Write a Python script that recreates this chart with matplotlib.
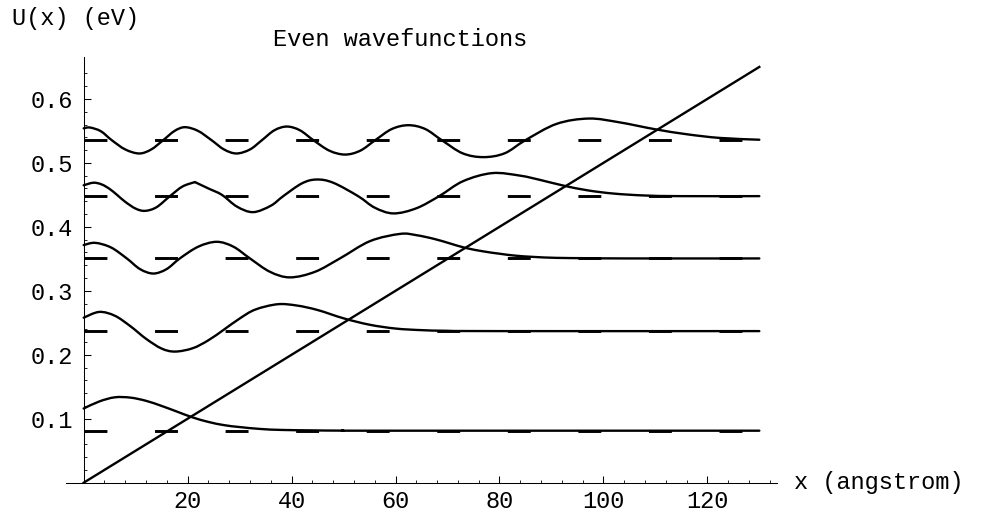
import matplotlib
matplotlib.use("Agg")
import matplotlib.pyplot as plt
from matplotlib.ticker import FixedLocator
from matplotlib.path import Path
from matplotlib.patches import PathPatch

plt.rcParams['font.family'] = ['Liberation Mono', 'DejaVu Sans Mono']
plt.rcParams['lines.scale_dashes'] = False

# ---- data ----
pot_x = [0, 130]
pot_u = [0.0, 0.65]

levels = [0.0813, 0.237, 0.3506, 0.448, 0.5355]
level_x = [0, 130]

psi1_x = [0, 3, 6, 9, 12, 15, 18, 21, 24, 27, 30, 34, 38, 44, 50, 60, 130]
psi1_y = [0.116, 0.127, 0.1335, 0.133, 0.128, 0.120, 0.111, 0.102, 0.095,
          0.090, 0.087, 0.084, 0.0825, 0.0818, 0.0814, 0.0813, 0.0813]

psi2_x = [0, 3, 6, 9, 12, 15, 17.6, 21, 24, 27, 30, 33, 37.3, 41, 45, 50, 55,
          60, 65, 70, 80, 130]
psi2_y = [0.258, 0.267, 0.261, 0.2446, 0.225, 0.2097, 0.205, 0.2103, 0.2227,
          0.2394, 0.2566, 0.2706, 0.279, 0.277, 0.270, 0.257, 0.247, 0.241,
          0.2385, 0.2375, 0.237, 0.237]

psi3_x = [0, 2.2, 5.25, 8.3, 10.85, 13.4, 15.95, 18.5, 22.05, 25.6, 28.8, 32.0,
          35.85, 39.7, 44.5, 49.3, 55.1, 60.9, 64, 67.5, 70.5, 73.5, 77, 80,
          83, 86.5, 91, 97, 105, 130]
psi3_y = [0.3715, 0.375, 0.3678, 0.3506, 0.3339, 0.327, 0.3339, 0.3506, 0.369,
          0.3766, 0.369, 0.3506, 0.3297, 0.321, 0.3297, 0.3506, 0.3777, 0.389,
          0.387, 0.381, 0.374, 0.367, 0.3615, 0.358, 0.355, 0.353, 0.3515,
          0.351, 0.3506, 0.3506]

# level-4 curve has a visible kink at x = 21.4, so it is kept in two pieces
psi4a_x = [0, 1.9, 3.5, 5, 6.4, 8, 10, 11.8, 14, 16.6, 19, 21.4]
psi4a_y = [0.465, 0.469, 0.4662, 0.4592, 0.4501, 0.4391, 0.4285, 0.425,
           0.4306, 0.448, 0.463, 0.470]
psi4b_x = [21.4, 24, 26.6, 29.5, 32.6, 36, 38.4, 42, 44.8, 48, 52.8, 56, 59.6,
           64, 68.4, 73, 78.6, 84, 88, 92.3, 97, 102, 108, 115, 130]
psi4b_y = [0.470, 0.460, 0.450, 0.4316, 0.423, 0.433, 0.448, 0.468, 0.474,
           0.469, 0.448, 0.430, 0.421, 0.429, 0.448, 0.4714, 0.484, 0.480,
           0.473, 0.4645, 0.457, 0.452, 0.449, 0.448, 0.448]

psi5_x = [0, 1.2, 3.3, 5.4, 8, 10.7, 13, 15.3, 17.5, 19.5, 22, 24.6, 27, 29.4,
          32, 34.3, 36.7, 39.1, 41.6, 44.2, 47.3, 50.3, 53.2, 56.1, 59.3,
          62.5, 65.7, 68.9, 72.9, 76.9, 81, 85, 91, 97.2, 103, 110, 116,
          122.4, 130]
psi5_y = [0.554, 0.5553, 0.5495, 0.5355, 0.521, 0.5147, 0.521, 0.5355, 0.550,
          0.5558, 0.550, 0.5355, 0.521, 0.5147, 0.521, 0.5355, 0.551, 0.5568,
          0.551, 0.5355, 0.519, 0.513, 0.519, 0.5355, 0.553, 0.5589, 0.553,
          0.5355, 0.515, 0.509, 0.515, 0.5355, 0.561, 0.5693, 0.5635, 0.5525,
          0.5448, 0.539, 0.5362]

xticks = [20, 40, 60, 80, 100, 120]
xtick_labels = ["20", "40", "60", "80", "100", "120"]
yticks = [0.1, 0.2, 0.3, 0.4, 0.5, 0.6]
ytick_labels = ["0.1", "0.2", "0.3", "0.4", "0.5", "0.6"]
xminor = [4, 8, 12, 16, 24, 28, 32, 36, 44, 48, 52, 56, 64, 68, 72, 76, 84, 88,
          92, 96, 104, 108, 112, 116, 124, 128, 132]
yminor = [0.02, 0.04, 0.06, 0.08, 0.12, 0.14, 0.16, 0.18, 0.22, 0.24, 0.26,
          0.28, 0.32, 0.34, 0.36, 0.38, 0.42, 0.44, 0.46, 0.48, 0.52, 0.54,
          0.56, 0.58, 0.62, 0.64]


def smooth_path(xs, ys):
    """Bezier path passing through the given points (Catmull-Rom tangents)."""
    pts = list(zip(xs, ys))
    n = len(pts)
    verts = [pts[0]]
    codes = [Path.MOVETO]
    for i in range(n - 1):
        p0 = pts[i - 1] if i > 0 else pts[i]
        p1 = pts[i]
        p2 = pts[i + 1]
        p3 = pts[i + 2] if i + 2 < n else pts[i + 1]
        c1 = (p1[0] + (p2[0] - p0[0]) / 6, p1[1] + (p2[1] - p0[1]) / 6)
        c2 = (p2[0] - (p3[0] - p1[0]) / 6, p2[1] - (p3[1] - p1[1]) / 6)
        verts += [c1, c2, p2]
        codes += [Path.CURVE4] * 3
    return Path(verts, codes)


# ---- figure ----
W, H = 981, 512
fig = plt.figure(figsize=(W / 100, H / 100), dpi=100)
ax = fig.add_axes([66 / W, 29.3 / H, 711 / W, 426 / H])
ax.set_xlim(-3.4, 133.4)
ax.set_ylim(0, 0.666)

lw = 1.7
for lev in levels:
    ax.plot(level_x, [lev, lev], color='black', lw=2.1,
            linestyle=(0, (16.5, 34.3)), solid_capstyle='butt')

ax.plot(pot_x, pot_u, color='black', lw=lw)
for xs, ys in [(psi1_x, psi1_y), (psi2_x, psi2_y), (psi3_x, psi3_y),
               (psi4a_x, psi4a_y), (psi4b_x, psi4b_y), (psi5_x, psi5_y)]:
    ax.add_patch(PathPatch(smooth_path(xs, ys), facecolor='none',
                           edgecolor='black', lw=lw, joinstyle='round',
                           capstyle='round'))

for s in ['top', 'right']:
    ax.spines[s].set_visible(False)
ax.spines['left'].set_position(('data', 0))
ax.spines['left'].set_linewidth(0.75)
ax.spines['bottom'].set_linewidth(0.75)

ax.xaxis.set_major_locator(FixedLocator(xticks))
ax.xaxis.set_minor_locator(FixedLocator(xminor))
ax.set_xticklabels(xtick_labels)
ax.yaxis.set_major_locator(FixedLocator(yticks))
ax.yaxis.set_minor_locator(FixedLocator(yminor))
ax.set_yticklabels(ytick_labels)

fs = 17
ax.tick_params(axis='both', which='major', direction='in', length=5,
               width=0.75, labelsize=fs)
ax.tick_params(axis='both', which='minor', direction='in', length=2.5,
               width=0.6)
ax.tick_params(axis='x', which='major', pad=5)
ax.tick_params(axis='y', which='major', pad=8)

fig.text(12 / W, 1 - 19 / H, "U(x) (eV)", fontsize=fs, ha='left', va='center')
fig.text(400 / W, 1 - 40 / H, "Even wavefunctions", fontsize=fs,
         ha='center', va='center')
fig.text(794 / W, 1 - 482.7 / H, "x (angstrom)", fontsize=fs,
         ha='left', va='center')

fig.savefig("out.png", dpi=100)
